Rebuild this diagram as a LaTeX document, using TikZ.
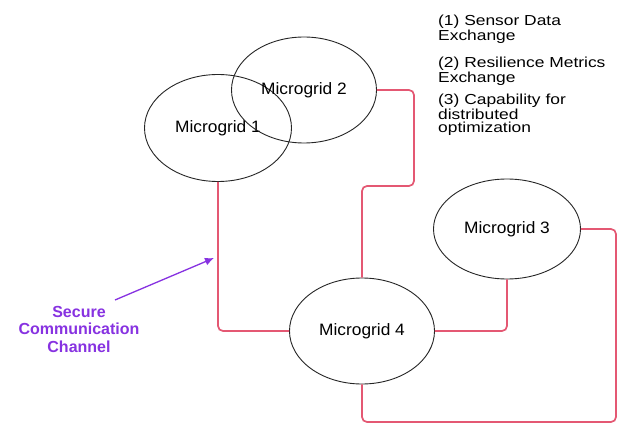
\documentclass[tikz,border=0pt]{standalone}
\usepackage{fontspec}
\setmainfont{Liberation Sans}
\newfontfamily\legendfont[FakeStretch=1.2]{Liberation Sans}
\newfontfamily\gridfont[FakeStretch=1.05]{Liberation Sans}
\usetikzlibrary{shapes.geometric,arrows.meta}
\definecolor{linkred}{RGB}{228,88,115}
\definecolor{labpurple}{RGB}{135,50,225}
\tikzset{
  grid/.style={ellipse,draw=black!85,line width=0.9pt,inner sep=0pt,
    font=\gridfont\fontsize{16.5}{18}\selectfont},
  link/.style={draw=linkred,line width=1.7pt,rounded corners=5pt},
  legend/.style={anchor=north west,align=left,inner sep=0pt,
    font=\legendfont\fontsize{14.5}{13}\selectfont},
}
\begin{document}
\begin{tikzpicture}[x=1pt,y=-1pt]
\useasboundingbox (0,0) rectangle (619,425);
\fill[white] (0,0) rectangle (619,425);
\node[grid,minimum width=147pt,minimum height=107pt] (m1) at (218,128) {Microgrid 1};
\node[grid,minimum width=145pt,minimum height=106pt] (m2) at (304,90) {Microgrid 2};
\node[grid,minimum width=147pt,minimum height=100pt] (m3) at (507,229) {Microgrid 3};
\node[grid,minimum width=145pt,minimum height=106pt] (m4) at (362,331) {Microgrid 4};
\coordinate (a1) at (414,90);
\coordinate (a2) at (414,186);
\coordinate (a3) at (362,186);
\coordinate (b1) at (616,229);
\coordinate (b2) at (616,422);
\coordinate (b3) at (362,422);
\draw[link] (m2.east) -- (a1) -- (a2) -- (a3) -- (m4.north);
\draw[link] (m1.south) |- (m4.west);
\draw[link] (m4.east) -| (m3.south);
\draw[link] (m3.east) -- (b1) -- (b2) -- (b3) -- (m4.south);
% label and arrow
\node[text=labpurple,font=\bfseries\fontsize{16}{17.5}\selectfont,align=center,inner sep=0pt] (lab) at (79,329) {Secure\\Communication\\Channel};
\coordinate (as) at (115,300);
\coordinate (at) at (214,258);
\draw[labpurple,line width=1.3pt,-{Latex[length=9pt,width=8pt]}] (as) -- (at);
% legend
\node[legend] (l1) at (438,15) {(1) Sensor Data\\Exchange};
\node[legend] (l2) at (438,57) {(2) Resilience Metrics\\Exchange};
\node[legend] (l3) at (438,94) {(3) Capability for\\distributed\\optimization};
\end{tikzpicture}
\end{document}
